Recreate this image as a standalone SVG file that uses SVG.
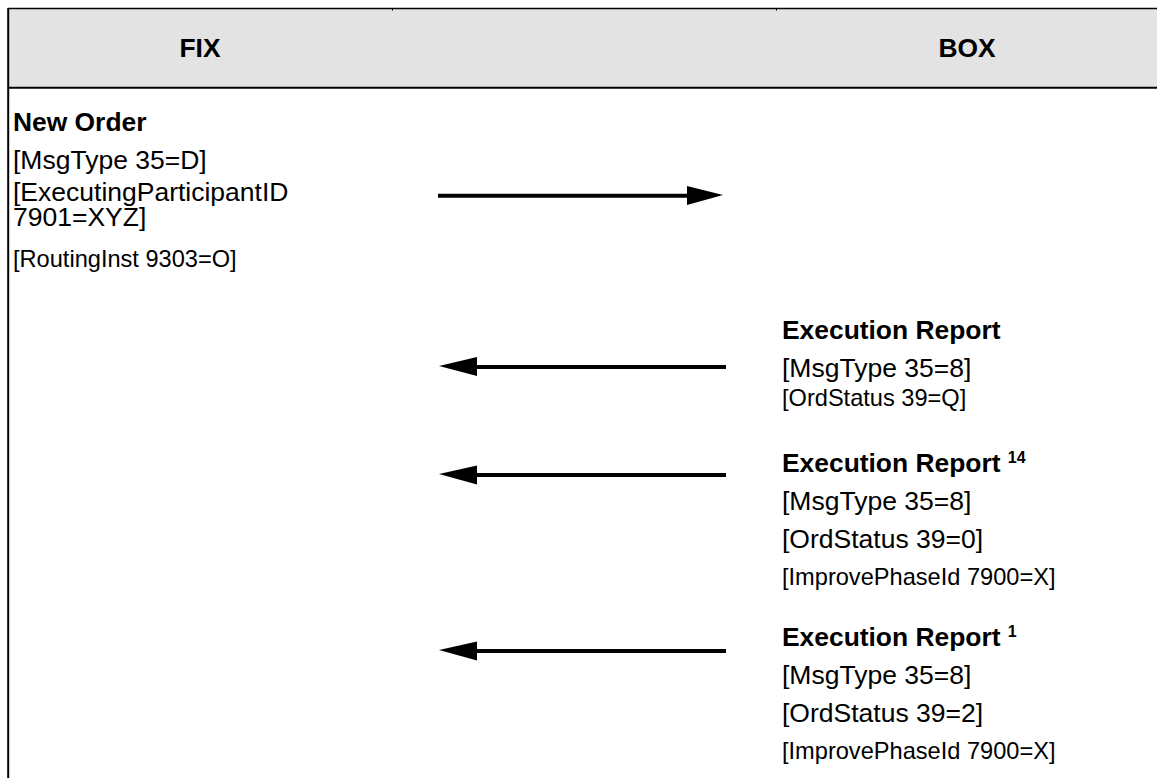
<svg xmlns="http://www.w3.org/2000/svg" width="1157" height="778" viewBox="0 0 1157 778">
  <style>
    text { font-family: "Liberation Sans", Arial, sans-serif; fill: #000; }
    .b { font-weight: bold; font-size: 26.4px; }
    .r { font-size: 26.5px; }
    .s { font-size: 23.6px; }
    .sup { font-weight: bold; font-size: 16px; }
    .line { stroke: #000; stroke-width: 4; fill: none; }
    .head { fill: #000; stroke: none; }
  </style>
  <rect x="0" y="0" width="1157" height="778" fill="#ffffff"/>
  <g id="header">
    <rect x="9" y="9" width="1148" height="78" fill="#e3e3e3"/>
    <line x1="8" y1="8.5" x2="1157" y2="8.5" stroke="#000" stroke-width="1.5"/>
    <line x1="8" y1="87.7" x2="1157" y2="87.7" stroke="#000" stroke-width="2"/>
    <line x1="8.2" y1="8" x2="8.2" y2="778" stroke="#000" stroke-width="2"/>
    <line x1="392.5" y1="8" x2="392.5" y2="10.5" stroke="#000" stroke-width="1"/>
    <line x1="776.5" y1="8" x2="776.5" y2="10.5" stroke="#000" stroke-width="1"/>
  </g>
  <g id="lane-fix">
    <text class="b" text-anchor="middle" x="200" y="57">FIX</text>
  </g>
  <g id="lane-box">
    <text class="b" text-anchor="middle" x="967" y="57">BOX</text>
  </g>
  <g id="new-order">
    <text class="b" x="13" y="131">New Order</text>
    <text class="r" x="13" y="169">[MsgType 35=D]</text>
    <text class="r" x="13" y="201">[ExecutingParticipantID</text>
    <text class="r" x="13" y="226">7901=XYZ]</text>
    <text class="s" x="13" y="267">[RoutingInst 9303=O]</text>
  </g>
  <g id="exec-report-1">
    <text class="b" x="782" y="339">Execution Report</text>
    <text class="r" x="782" y="377">[MsgType 35=8]</text>
    <text class="s" x="782" y="406">[OrdStatus 39=Q]</text>
  </g>
  <g id="exec-report-2">
    <text class="b" x="782" y="472">Execution Report <tspan class="sup" dy="-9">14</tspan></text>
    <text class="r" x="782" y="510">[MsgType 35=8]</text>
    <text class="r" x="782" y="548">[OrdStatus 39=0]</text>
    <text class="s" x="782" y="585">[ImprovePhaseId 7900=X]</text>
  </g>
  <g id="exec-report-3">
    <text class="b" x="782" y="646">Execution Report <tspan class="sup" dy="-9">1</tspan></text>
    <text class="r" x="782" y="684">[MsgType 35=8]</text>
    <text class="r" x="782" y="722">[OrdStatus 39=2]</text>
    <text class="s" x="782" y="759">[ImprovePhaseId 7900=X]</text>
  </g>
  <g id="connectors">
    <line class="line" x1="438" y1="195.8" x2="689" y2="195.8"/>
    <polygon class="head" points="687,186 723,195 687,205"/>
    <line class="line" x1="475" y1="367" x2="726" y2="367"/>
    <polygon class="head" points="477,357 439,366 477,376"/>
    <line class="line" x1="475" y1="475" x2="726" y2="475"/>
    <polygon class="head" points="477,465.5 439,474 477,484.5"/>
    <line class="line" x1="475" y1="651" x2="726" y2="651"/>
    <polygon class="head" points="477,641.5 439,650 477,660.5"/>
  </g>
</svg>
